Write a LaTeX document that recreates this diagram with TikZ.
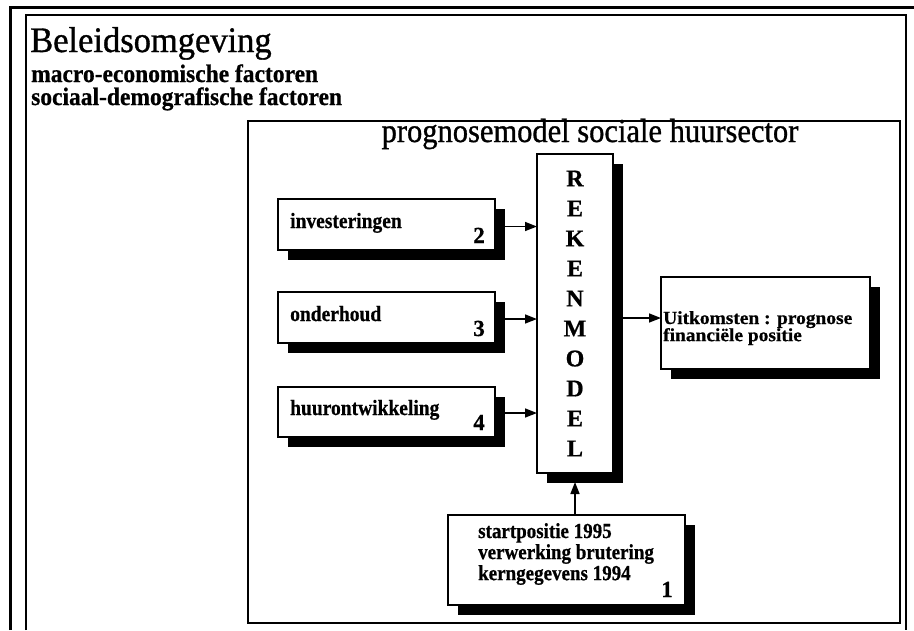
\documentclass[tikz,border=0pt]{standalone}
\usepackage{fontspec}
\setmainfont{Liberation Serif}
\newfontfamily\heavy{Liberation Serif}[FakeBold=0.7]
\newfontfamily\semiheavy{Liberation Serif}[FakeBold=1.0]
\usetikzlibrary{arrows.meta,shadows}
\newcommand{\vstretch}[2][1.12]{\scalebox{1}[#1]{#2}}
\begin{document}
\begin{tikzpicture}[x=1pt,y=-1pt,
  box/.style={draw, line width=1.3pt, fill=white, inner sep=0pt, outer sep=0pt, anchor=north west,
    drop shadow={shadow xshift=10pt, shadow yshift=-10pt, opacity=1, fill=black}},
  arr/.style={-{Triangle[length=12pt,width=9pt]}, line width=1.5pt},
  boxtext/.style={font=\fontsize{19.5}{20.5}\heavy\bfseries, anchor=base west, inner sep=0pt},
  numtext/.style={font=\fontsize{23}{23}\heavy\bfseries, anchor=base east, inner sep=0pt},
  plain/.style={anchor=base west, inner sep=0pt},
]
\useasboundingbox (0,0) rectangle (914,630);
% frame
\draw[line width=3pt] (10,630) -- (10,7) -- (914,7);
\draw[line width=1.3pt] (26,630) -- (26,15) -- (906,15) -- (906,630);
% headings
\node[plain, font=\fontsize{34.5}{36}\semiheavy] (t1) at (30,52) {\vstretch[1.04]{Beleidsomgeving}};
\node[plain, font=\fontsize{23.5}{24}\heavy\bfseries] (t2) at (31,82) {\vstretch[1.07]{macro-economische factoren}};
\node[plain, font=\fontsize{23.5}{24}\heavy\bfseries] (t3) at (31,105) {\vstretch[1.07]{sociaal-demografische factoren}};
% model box
\node[draw, line width=1.3pt, inner sep=0pt, outer sep=0pt, anchor=north west,
  minimum width=652pt, minimum height=502pt] (pm) at (248,121) {};
\node[anchor=base, inner sep=0pt, font=\fontsize{30.5}{34}\semiheavy] (pmt) at (590,142) {\vstretch[1.1]{prognosemodel sociale huursector}};
% rekenmodel
\node[box, minimum width=76pt, minimum height=319pt, align=center,
  font=\fontsize{24}{30}\heavy\bfseries] (rk) at (537,154)
  {R\\E\\K\\E\\N\\M\\O\\D\\E\\L};
% input boxes
\node[box, minimum width=217pt, minimum height=51pt] (b2) at (278,199) {};
\node[boxtext] (l2) at ([shift={(12,29)}]b2.north west) {\vstretch{investeringen}};
\node[numtext] (n2) at ([shift={(-10,-7)}]b2.south east) {2};
\node[box, minimum width=217pt, minimum height=51pt] (b3) at (278,292) {};
\node[boxtext] (l3) at ([shift={(12,29)}]b3.north west) {\vstretch{onderhoud}};
\node[numtext] (n3) at ([shift={(-10,-7)}]b3.south east) {3};
\node[box, minimum width=217pt, minimum height=50pt] (b4) at (278,387) {};
\node[boxtext] (l4) at ([shift={(12,28)}]b4.north west) {\vstretch{huurontwikkeling}};
\node[numtext] (n4) at ([shift={(-10,-7)}]b4.south east) {4};
\node[box, minimum width=237pt, minimum height=90pt] (b1) at (448,515) {};
\node[boxtext, font=\fontsize{19}{18.2}\heavy\bfseries] (l1) at (478,538) {\vstretch[1.13]{\begin{tabular}[t]{@{}l@{}}startpositie 1995\\ verwerking brutering\\ kerngegevens 1994\end{tabular}}};
\node[numtext] (n1) at ([shift={(-12,-8)}]b1.south east) {1};
% output box
\node[box, minimum width=209pt, minimum height=92pt] (uk) at (661,277) {};
\node[plain, font=\fontsize{18.5}{13}\heavy\bfseries] (lu) at (663,324)
  {\scalebox{1.05}[1]{\begin{tabular}[t]{@{}l@{}}Uitkomsten : prognose\\ financiële positie\end{tabular}}};
% connectors
\coordinate (rkS) at ([xshift=10pt]rk.east);
\coordinate (rkB) at ([yshift=-9pt]rk.south);
\coordinate (ukin) at ([yshift=5pt]uk.west);
\coordinate (a2) at ([xshift=10pt,yshift=-2pt]b2.east);
\coordinate (a3) at ([xshift=10pt,yshift=-1.5pt]b3.east);
\coordinate (a4) at ([xshift=10pt,yshift=-1pt]b4.east);
\draw[arr] (a2) -- (a2 -| rk.west);
\draw[arr] (a3) -- (a3 -| rk.west);
\draw[arr] (a4) -- (a4 -| rk.west);
\draw[arr] (rkS |- ukin) -- (ukin);
\draw[arr] (rk.south |- b1.north) -- (rkB);
\end{tikzpicture}
\end{document}
